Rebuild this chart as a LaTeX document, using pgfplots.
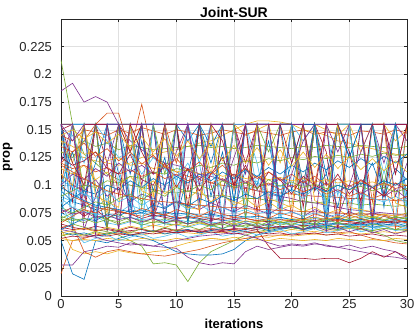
\documentclass[border=0pt]{standalone}
\usepackage{pgfplots}
\usepackage{pgfplotstable}
\pgfplotsset{compat=1.18}
\usetikzlibrary{calc}
\usepackage{fontspec}
\setmainfont{Liberation Sans}
\definecolor{m1}{HTML}{0072BD}
\definecolor{m2}{HTML}{D95319}
\definecolor{m3}{HTML}{EDB120}
\definecolor{m4}{HTML}{7E2F8E}
\definecolor{m5}{HTML}{77AC30}
\definecolor{m6}{HTML}{4DBEEE}
\definecolor{m7}{HTML}{A2142F}
\definecolor{axc}{HTML}{262626}
% one row per series (per mille), columns = iterations 0..30
\pgfplotstableread[header=false]{
95 85 82 78 80 76 74 75 72 73 70 71 69 70 68 69 67 68 67 66 67 66 65 66 65 64 65 64 65 64 64
20 50 52 55 57 56 58 57 59 58 60 59 60 61 60 60 61 60 62 61 62 61 62 62 63 62 63 62 63 63 62
60 42 38 40 38 41 39 38 40 41 45 48 50 52 51 53 52 54 53 55 54 55 56 55 56 57 56 57 58 57 58
185 192 175 180 175 155 140 132 125 120 118 115 110 108 105 100 98 95 92 90 88 85 84 82 80 78 77 76 75 74 73
213 155 128 120 110 105 100 98 96 94 93 95 92 90 91 89 88 88 86 87 85 86 84 85 83 84 82 83 82 81 82
75 70 68 72 66 64 67 65 63 66 64 62 65 63 61 64 62 60 63 61 62 60 61 62 60 61 60 62 61 60 61
155 155 155 155 155 155 155 155 155 155 155 155 155 155 155 155 155 155 155 155 155 155 155 155 155 155 155 155 155 155 155
155 60 155 155 80 155 70 155 155 95 155 65 155 120 155 155 70 155 155 85 155 60 155 110 155 155 75 155 90 155 155
120 130 140 155 165 165 130 173 125 118 112 108 105 102 100 98 97 95 94 93 92 91 90 90 89 88 88 87 87 86 86
130 128 125 122 120 118 120 125 128 130 132 135 138 140 145 150 155 158 158 157 155 150 148 145 140 138 135 133 130 128 126
28 28 40 42 45 44 48 46 45 44 43 35 30 28 30 29 40 45 42 44 46 45 47 46 44 42 40 38 36 35 33
70 65 62 60 58 55 50 45 29 30 28 13 30 40 45 50 55 58 60 62 60 63 61 64 62 63 60 58 55 50 48
155 110 80 155 60 155 155 90 70 155 100 155 80 155 155 65 155 120 70 155 155 90 155 80 155 60 155 155 100 70 155
150 155 70 155 120 60 155 155 80 155 65 155 155 100 70 155 90 155 60 155 155 80 155 130 60 155 155 70 155 110 155
50 20 15 50 48 52 55 53 50 45 40 38 37 37 38 42 50 55 58 60 62 60 65 63 66 64 67 65 66 68 67
100 155 90 70 155 155 85 155 60 155 120 155 75 155 155 95 155 60 155 155 70 155 100 155 65 155 155 85 155 60 155
55 56 54 57 55 58 56 55 57 56 58 57 56 58 57 59 58 57 59 58 60 59 58 60 59 61 60 59 61 60 60
155 155 155 155 155 155 155 155 155 155 155 155 155 155 155 155 155 155 155 155 155 155 155 155 155 155 155 155 155 155 155
80 75 78 72 70 74 68 66 70 65 64 68 66 63 65 62 64 63 61 63 62 60 62 61 60 62 61 59 61 60 59
90 85 95 80 88 75 82 78 70 76 72 74 70 73 71 69 72 70 68 71 69 67 70 68 66 69 67 68 66 67 65
65 62 60 63 61 59 62 60 58 61 59 60 57 59 58 60 58 60 45 34 34 34 33 34 34 30 34 40 35 40 35
70 155 155 95 60 155 80 155 155 65 155 140 155 70 155 85 155 155 60 155 95 155 155 70 155 125 155 60 155 155 80
62 64 40 35 40 42 40 38 37 36 38 40 42 45 48 50 52 53 55 55 56 57 56 58 57 58 55 52 50 48 47
140 120 155 100 75 155 130 155 90 155 155 70 155 110 155 155 145 150 155 120 155 100 155 150 145 155 130 155 155 140 150
110 100 95 105 90 98 85 92 88 80 86 82 78 84 80 76 82 78 74 80 76 72 78 74 70 76 72 75 73 70 72
130 125 140 135 138 132 136 134 132 133 134 135 136 134 135 133 134 136 135 134 133 135 134 136 135 134 136 135 134 133 135
155 70 155 65 155 155 90 60 155 155 75 155 120 60 155 155 80 155 155 70 155 65 155 155 90 155 60 155 100 155 70
75 80 72 78 70 76 74 70 73 71 69 72 70 68 71 69 70 68 67 69 68 66 68 67 69 67 66 68 67 66 68
58 55 57 54 56 58 55 57 59 56 58 60 57 59 61 58 60 62 59 61 63 60 62 64 61 63 65 62 64 66 63
100 90 85 80 78 76 74 72 75 73 71 70 72 70 69 71 70 68 70 69 67 69 68 70 68 67 69 68 67 68 66
52 50 51 50 52 51 50 52 51 50 52 51 50 52 51 50 50 51 50 52 51 50 51 50 52 51 50 51 50 52 51
120 155 80 155 155 60 155 100 155 70 155 155 85 155 60 155 110 155 155 75 155 90 155 60 155 155 80 155 120 155 60
68 70 66 72 69 67 71 68 66 70 67 65 69 66 64 68 65 63 67 64 66 63 65 62 66 64 61 65 63 60 64
85 60 48 52 55 50 53 56 52 54 57 53 55 58 54 56 59 55 57 60 56 58 61 57 59 62 58 60 63 59 61
155 85 155 155 60 155 130 155 70 155 155 95 155 65 155 155 120 155 80 155 155 60 155 100 155 70 155 155 90 155 155
100 130 90 120 155 110 80 140 95 125 70 110 155 90 130 75 115 100 140 85 120 155 95 110 80 130 100 120 90 115 105
145 140 150 148 145 150 147 152 149 146 150 148 145 147 150 148 146 149 147 145 148 150 146 148 147 145 149 148 146 150 147
115 110 118 105 112 100 108 96 104 92 100 88 96 85 92 82 88 80 85 78 82 76 80 74 78 72 76 70 74 68 72
60 58 55 53 50 48 46 47 45 48 50 52 54 55 56 57 55 52 48 45 47 46 48 45 44 46 43 45 42 40 33
155 155 95 155 60 155 155 80 155 110 155 65 155 155 90 155 70 155 130 155 155 60 155 85 155 155 70 155 100 155 65
90 155 155 70 155 100 155 60 155 155 85 155 120 155 70 155 155 95 155 60 155 140 155 75 155 155 65 155 110 155 80
52 54 53 55 54 56 55 57 56 58 57 59 58 60 59 61 60 62 61 63 62 64 63 65 64 66 65 67 66 68 67
155 95 155 60 155 155 110 155 75 155 155 65 155 135 155 85 155 155 70 155 155 100 155 60 155 125 155 155 80 155 90
120 115 118 112 116 110 114 108 112 106 110 104 108 102 106 100 104 98 102 96 100 94 98 92 96 90 94 88 92 86 90
140 135 128 130 122 125 118 120 115 117 112 114 110 112 108 110 106 108 105 107 104 106 103 105 102 104 101 103 100 102 100
100 110 105 115 108 120 112 118 110 116 108 114 106 112 104 110 102 108 100 106 98 104 96 102 94 100 92 98 90 96 88
90 95 100 98 104 102 108 106 112 110 115 113 118 116 120 118 122 120 124 122 125 123 126 124 127 125 128 126 129 127 128
150 145 120 155 140 125 130 110 125 115 105 120 100 112 95 108 92 104 90 100 95 88 98 86 95 84 92 88 85 90 84
125 118 122 130 115 110 128 105 100 120 98 115 95 110 125 100 118 96 112 105 92 108 100 95 110 92 105 98 90 102 95
80 88 95 92 100 96 104 98 106 100 108 102 110 104 112 106 114 108 116 110 118 112 120 114 122 116 124 118 126 120 128
135 130 138 126 133 122 130 119 127 116 124 113 121 110 118 108 115 106 112 104 110 102 108 100 106 99 104 98 102 97 100
110 100 155 90 85 80 155 95 90 155 85 80 78 155 90 85 82 155 88 84 80 155 86 82 155 80 78 76 155 84 80
155 155 60 90 120 155 155 155 70 100 130 155 155 65 95 125 155 155 155 80 110 140 155 155 70 100 130 155 155 90 120
70 75 80 85 82 88 92 86 95 90 98 94 100 96 104 98 102 97 105 99 103 98 101 97 100 96 99 95 98 94 97
105 98 92 88 95 85 90 82 88 80 85 78 83 76 80 75 78 74 77 73 76 72 75 71 74 70 73 69 72 68 71
155 120 100 155 155 90 155 130 110 155 155 80 155 155 140 100 155 75 155 155 120 155 95 155 155 130 85 155 155 110 155
60 65 70 68 74 72 78 75 82 79 85 81 88 84 90 86 92 88 94 90 96 92 98 94 100 96 102 98 104 100 106
118 112 106 100 95 92 90 88 86 85 84 83 82 81 80 80 79 78 78 77 77 76 76 75 75 74 74 74 73 73 73
145 150 142 148 138 146 134 144 130 142 126 140 124 138 122 136 120 134 118 132 117 130 116 128 115 126 114 124 113 122 112
155 140 155 55 155 155 65 155 155 155 60 155 100 155 155 58 155 155 75 155 155 155 62 155 130 155 155 66 155 155 140
72 68 70 66 69 65 68 64 67 66 68 65 67 64 66 68 65 67 69 66 68 70 67 69 71 68 70 72 69 71 70
88 80 76 74 72 70 71 69 70 68 69 67 68 66 67 65 66 64 65 66 64 65 63 64 65 63 64 62 63 64 62
62 60 61 59 60 58 59 60 58 59 57 58 59 57 58 56 57 58 56 57 55 56 57 55 56 54 55 56 54 55 54
98 92 86 82 80 78 76 77 75 76 74 75 73 74 72 73 71 72 70 71 69 70 71 69 70 68 69 70 68 69 68
66 72 78 75 80 77 74 79 76 73 78 75 72 77 74 71 76 73 70 75 72 69 74 71 68 73 70 67 72 69 66
57 59 61 58 62 60 63 61 64 62 65 63 66 64 67 65 68 66 69 67 70 68 71 69 72 70 73 71 74 72 75
78 74 76 71 73 69 71 67 70 66 69 65 68 64 67 63 66 62 65 61 64 60 63 59 62 58 61 57 60 56 59
54 57 55 58 56 60 57 61 58 62 59 63 60 64 61 65 62 66 63 67 64 68 65 69 66 70 67 71 68 72 69
}\raw
\pgfplotstabletranspose\T\raw
\begin{document}
\begin{tikzpicture}
\begin{axis}[
  name=main,
  scale only axis, width=346pt, height=277pt,
  xmin=0, xmax=30, ymin=0, ymax=0.25,
  xtick={0,5,10,15,20,25,30},
  ytick={0,0.025,0.05,0.075,0.1,0.125,0.15,0.175,0.2,0.225},
  yticklabels={0,0.025,0.05,0.075,0.1,0.125,0.15,0.175,0.2,0.225},
  tick align=inside, major tick length=3.5pt,
  xtick pos=both, ytick pos=both,
  grid=major, major grid style={color=black!12, line width=0.4pt},
  axis line style={axc, line width=0.5pt},
  tick style={axc, line width=0.5pt},
  ticklabel style={font=\fontsize{13}{15}\selectfont, text=axc},
  yticklabel style={xshift=-5.5pt},
  /pgf/number format/assume math mode=true,
  title={\bfseries Joint-SUR},
  title style={font=\fontsize{14}{16}\selectfont, text=black, yshift=-8pt},
  xlabel={\bfseries iterations},
  ylabel={\bfseries prop},
  label style={font=\fontsize{13}{15}\selectfont, text=black},
  xlabel style={yshift=-3pt},
  ylabel style={yshift=0pt},
  cycle list={{m1},{m2},{m3},{m4},{m5},{m6},{m7}},
  every axis plot/.append style={line width=0.6pt, mark=none},
  clip=true,
]
\pgfplotsinvokeforeach{1,...,68}{
  \addplot table[x index=0, y expr=\thisrowno{#1}*0.001]{\T};
}
\end{axis}
\pgfresetboundingbox
\path[use as bounding box] ($(main.south west)+(-61pt,-40pt)$) rectangle ($(main.north east)+(7pt,19pt)$);
\end{tikzpicture}
\end{document}
